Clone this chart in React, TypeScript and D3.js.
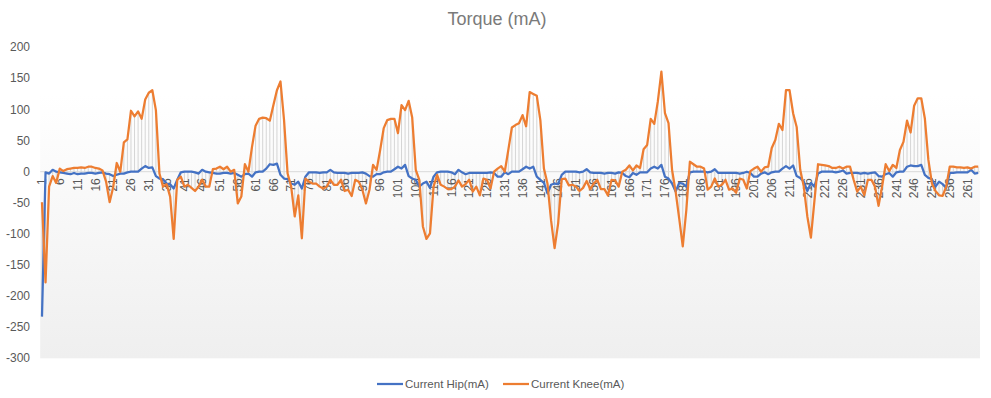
import React from "react";
import * as d3 from "d3";

const title = "Torque (mA)";
const seriesNames = ["Current Hip(mA)", "Current Knee(mA)"];
const yTicks = [200, 150, 100, 50, 0, -50, -100, -150, -200, -250, -300];

const hip = [
  -233, -1, -3, 3, 0, -1, -2, -3, -4, -2, -4, -3, -3, -2, -2, -3, -2, -1, -3, -4,
  -7, -5, -3, -3, -1, 0, 0, 0, 5, 9, 6, 7, -7, -11, -12, -19, -20, -27, -13, -1,
  0, 0, 0, -1, -3, 3, 0, -1, -2, -3, -3, -2, -2, -3, -2, -5, -8, -4, -3, -8,
  -1, 0, 0, 5, 12, 11, 13, -5, -11, -12, -19, -21, -16, -27, -8, -1, -1, -1, -2, -1,
  -1, 3, -1, -2, -2, -2, -3, -2, -2, -2, -1, -3, -7, -8, -4, -4, -1, 0, 0, 4,
  8, 5, 11, -7, -11, -13, -24, -19, -16, -26, -8, -1, 0, 0, 0, -1, -4, 3, -1, -4,
  -2, -2, -2, -2, -2, -2, -1, -2, -8, -8, -1, -4, 0, 0, 0, 4, 8, 5, 8, -8,
  -13, -18, -35, -21, -19, -20, -5, 0, 0, 0, 0, -1, 0, 4, -1, -2, -2, -2, -3, -2,
  -2, -3, -1, -2, -7, -9, -2, -5, -1, -1, -1, 5, 8, 5, 11, -8, -11, -19, -32, -18,
  -19, -24, -1, 0, 0, 0, 0, -1, 0, 4, -2, -2, -2, -2, -2, -2, -3, -2, 0, -2,
  -8, -8, -3, -1, -4, -1, 0, 0, 5, 9, 5, 10, -7, -10, -16, -31, -18, -24, -3, 0,
  0, 0, 0, -1, 0, 2, -3, -2, -2, -2, -3, -2, -3, -2, -1, -7, -8, -4, -2, -8,
  -1, 0, 0, 8, 10, 9, 9, 11, -5, -10, -12, -24, -16, -20, -26, -2, -2, -1, -1, -1,
  -1, 3, -3, -2,
];

const knee = [
  -49, -178, -24, -7, -18, 5, 1, 4, 5, 6, 6, 7, 6, 8, 8, 6, 5, 2, -16, -49,
  -25, 14, 0, 47, 52, 98, 89, 97, 85, 116, 127, 131, 99, -3, -24, -20, -40, -108, -13, -8,
  -24, -21, -26, -31, -24, -13, -24, -24, 4, 5, 8, 4, 8, 0, 3, -51, -40, 12, 0, 40,
  74, 85, 87, 86, 82, 107, 131, 145, 83, -3, -24, -72, -38, -107, -11, -16, -19, -19, -24, -27,
  -24, -13, -21, -21, -13, -31, -29, -39, -13, -16, -29, -51, -29, 11, 3, 35, 70, 83, 85, 85,
  62, 107, 99, 114, 87, 3, -13, -88, -108, -99, -24, -5, -21, -24, -28, -28, -24, -14, -24, -20,
  -13, -32, -24, -38, -11, -13, -27, 0, 5, 9, 0, 35, 71, 75, 78, 91, 73, 128, 125, 122,
  83, 5, -19, -78, -123, -83, -12, -11, -22, -21, -24, -31, -26, -15, -28, -19, -13, -28, -28, -38,
  -13, -14, -24, 0, 3, 10, 2, 10, 6, 36, 43, 85, 77, 113, 161, 94, 78, 3, -32, -75,
  -120, -62, 16, 12, 8, 8, 5, -29, -24, -11, -24, -21, -13, -29, -27, -34, -11, -13, -27, 1,
  5, 8, 0, 7, 8, 38, 51, 77, 67, 131, 131, 94, 72, 3, -24, -72, -106, -46, 12, 11,
  10, 9, 6, 6, 8, 5, 8, 8, -13, -32, -24, -38, -13, -13, -24, -55, -24, 12, 1, 11,
  6, 35, 48, 82, 63, 106, 118, 118, 86, 19, -19, -31, -38, -39, -24, 8, 8, 7, 7, 6,
  7, 5, 8, 8,
];

const categories = hip.map((_, i) => String(i + 1));
const tickLabels = categories.filter((_, i) => i % 5 === 0);

const W = 991;
const H = 398;
const plot = { left: 40.2, right: 980, top: 47.3, bottom: 358.3 };
const colors = ["#4472C4", "#ED7D31"];
const FONT = "'Liberation Sans', Arial, sans-serif";

export default function App() {
  const x = d3
    .scalePoint<string>()
    .domain(categories)
    .range([plot.left, plot.right])
    .padding(0.5);
  const y = d3.scaleLinear().domain([-300, 200]).range([plot.bottom, plot.top]);

  const line = d3
    .line<number>()
    .x((_, i) => x(categories[i]) as number)
    .y((d) => y(d));

  return (
    <svg
      width={W}
      height={H}
      style={{ position: "absolute", left: 0, top: 0, background: "#fff" }}
      fontFamily={FONT}
    >
      <defs>
        <linearGradient id="bg" x1="0" y1="0" x2="0" y2="1">
          <stop offset="0" stopColor="#ffffff" />
          <stop offset="0.15" stopColor="#ffffff" />
          <stop offset="1" stopColor="#efefef" />
        </linearGradient>
      </defs>
      <rect x={0} y={0} width={W} height={H} fill="#fff" />
      <rect
        x={plot.left}
        y={plot.top}
        width={plot.right - plot.left}
        height={plot.bottom - plot.top}
        fill="url(#bg)"
      />
      <text x={497} y={25} textAnchor="middle" fontSize={18} fill="#7a7a7a">
        {title}
      </text>
      {yTicks.map((t) => (
        <text
          key={t}
          x={30}
          y={y(t) + 4}
          textAnchor="end"
          fontSize={12}
          fill="#595959"
        >
          {t}
        </text>
      ))}
      {categories.map((c, i) => {
        const a = hip[i];
        const b = knee[i];
        return (
          <line
            key={"hl" + c}
            x1={x(c)}
            x2={x(c)}
            y1={y(Math.max(a, b))}
            y2={y(Math.min(a, b))}
            stroke="#c8c8c8"
            strokeWidth={0.75}
          />
        );
      })}
      <line
        x1={plot.left}
        x2={plot.right}
        y1={y(0)}
        y2={y(0)}
        stroke="#d9d9d9"
        strokeWidth={1}
      />
      {tickLabels.map((c) => (
        <text
          key={"xl" + c}
          transform={`translate(${(x(c) as number) + 4.2},${y(0) + 6.5}) rotate(-90)`}
          textAnchor="end"
          fontSize={12}
          fill="#595959"
        >
          {c}
        </text>
      ))}
      <path d={line(hip) || ""} fill="none" stroke={colors[0]} strokeWidth={2.25} strokeLinejoin="round" />
      <path d={line(knee) || ""} fill="none" stroke={colors[1]} strokeWidth={2.25} strokeLinejoin="round" />
      {seriesNames.map((n, i) => {
        const lx = i === 0 ? 377 : 503;
        return (
          <g key={n}>
            <line x1={lx} x2={lx + 26} y1={384} y2={384} stroke={colors[i]} strokeWidth={2.25} />
            <text x={lx + 28} y={388} fontSize={11.5} fill="#595959">
              {n}
            </text>
          </g>
        );
      })}
    </svg>
  );
}
